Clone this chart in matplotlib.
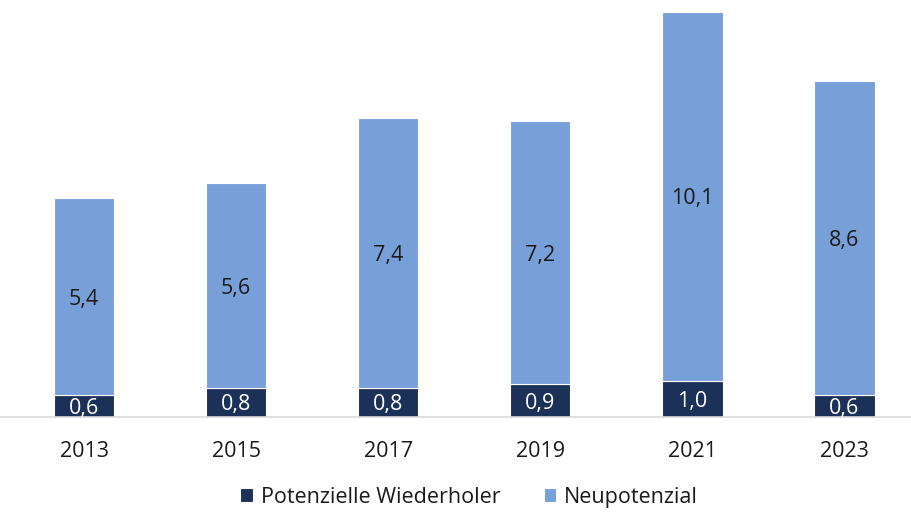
import numpy as np
from matplotlib import pyplot as plt

years = ["2013", "2015", "2017", "2019", "2021", "2023"]
wiederholer = [0.6, 0.8, 0.8, 0.9, 1.0, 0.6]
neupotenzial = [5.4, 5.6, 7.4, 7.2, 10.1, 8.6]

dark = "#1B3158"
light = "#78A0D8"
text_col = "#1A1A1A"
fs = 15.5

plt.rcParams["font.family"] = ["Open Sans", "DejaVu Sans"]

fig = plt.figure(figsize=(9.11, 5.13), dpi=100)
ax = fig.add_axes([0, 0.187, 1, 0.813])

x = np.arange(len(years))
b1 = ax.bar(x, wiederholer, width=0.4, color=dark, edgecolor="white",
            linewidth=0.8, label="Potenzielle Wiederholer")
b2 = ax.bar(x, neupotenzial, width=0.4, bottom=wiederholer, color=light,
            edgecolor="white", linewidth=0.8, label="Neupotenzial")

for xi, w, n in zip(x, wiederholer, neupotenzial):
    ax.text(xi, w / 2, f"{w:.1f}".replace(".", ","), ha="center",
            va="center_baseline", color="white", fontsize=fs)
    ax.text(xi, w + n / 2, f"{n:.1f}".replace(".", ","), ha="center",
            va="center_baseline", color=text_col, fontsize=fs)

ax.set_xlim(-0.553, 5.44)
ax.set_ylim(0, 11.42)
ax.set_yticks([])
ax.set_xticks(x)
ax.set_xticklabels(years, fontsize=fs, color=text_col)
ax.tick_params(axis="x", length=0, pad=17)
for s in ["top", "right", "left"]:
    ax.spines[s].set_visible(False)
ax.spines["bottom"].set_color("#D9D9D9")
ax.spines["bottom"].set_linewidth(1.2)

fig.legend(handles=[b1, b2], loc="center", bbox_to_anchor=(0.515, 0.031),
           ncol=2, frameon=False, fontsize=fs, handlelength=0.6,
           handleheight=0.6, handletextpad=0.35, columnspacing=2.0,
           labelcolor=text_col)

fig.savefig("out.png", dpi=100)
